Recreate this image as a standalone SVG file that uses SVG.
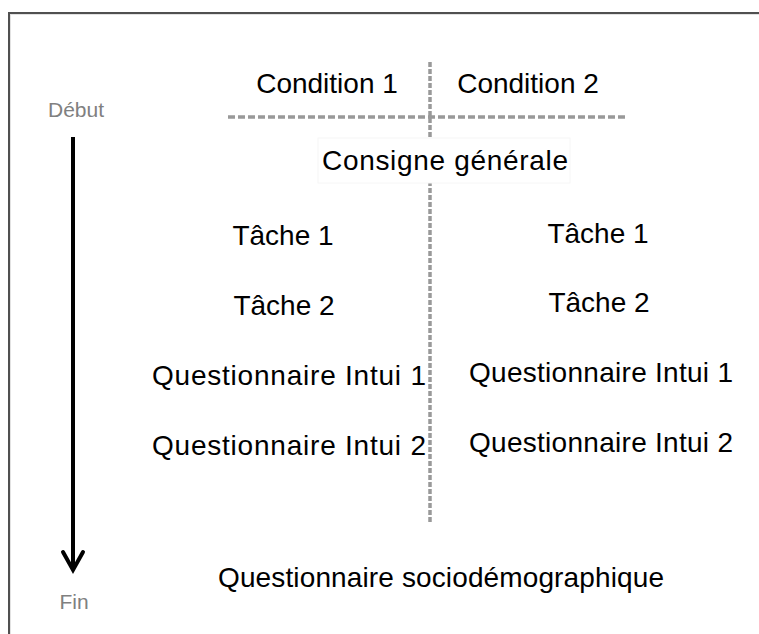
<svg xmlns="http://www.w3.org/2000/svg" width="759" height="634" viewBox="0 0 759 634">
  <style>
    .lbl { font-family: "Liberation Sans", Arial, sans-serif; font-size: 28px; fill: #000; text-anchor: middle; }
    .time { font-family: "Liberation Sans", Arial, sans-serif; font-size: 21px; fill: #808080; text-anchor: middle; }
    .box { fill: #fff; stroke: #f6f6f6; stroke-width: 1; }
    .dash-h { stroke: #999; stroke-width: 3.5; stroke-dasharray: 7 3; fill: none; }
    .dash-v { stroke: #999; stroke-width: 3.5; stroke-dasharray: 5 2; fill: none; }
  </style>

  <!-- page background and frame -->
  <rect x="0" y="0" width="759" height="634" fill="#fff"/>
  <path d="M10 634 V14 H759" fill="none" stroke="#e2e2e2" stroke-width="2"/>
  <path d="M9 634 V13 H759" fill="none" stroke="#505050" stroke-width="2"/>

  <!-- connectors: column separators and time arrow -->
  <g id="connectors">
    <line class="dash-v" x1="430" y1="62" x2="430" y2="522"/>
    <line class="dash-h" x1="228" y1="117" x2="627" y2="117"/>
    <line x1="73" y1="137" x2="73" y2="568" stroke="#000" stroke-width="4"/>
    <polyline points="63,552 73,570 83,552" fill="none" stroke="#000" stroke-width="4" stroke-linejoin="miter" stroke-linecap="round"/>
  </g>

  <g id="debut"><text class="time" x="76" y="117">Début</text></g>
  <g id="fin"><text class="time" x="74" y="609">Fin</text></g>

  <g id="condition1"><text class="lbl" x="327" y="93">Condition 1</text></g>
  <g id="condition2"><text class="lbl" x="528" y="93">Condition 2</text></g>

  <g id="consigne">
    <rect class="box" x="318" y="138" width="252" height="45"/>
    <text class="lbl" x="445" y="170" textLength="246">Consigne générale</text>
  </g>

  <!-- condition 1 column -->
  <g id="c1-tache1"><text class="lbl" x="283" y="245">Tâche 1</text></g>
  <g id="c1-tache2"><text class="lbl" x="284" y="315">Tâche 2</text></g>
  <g id="c1-intui1"><text class="lbl" x="289" y="385" textLength="274">Questionnaire Intui 1</text></g>
  <g id="c1-intui2"><text class="lbl" x="289" y="455" textLength="274">Questionnaire Intui 2</text></g>

  <!-- condition 2 column -->
  <g id="c2-tache1"><text class="lbl" x="598" y="243">Tâche 1</text></g>
  <g id="c2-tache2"><text class="lbl" x="599" y="312">Tâche 2</text></g>
  <g id="c2-intui1"><text class="lbl" x="601" y="382" textLength="264">Questionnaire Intui 1</text></g>
  <g id="c2-intui2"><text class="lbl" x="601" y="452" textLength="264">Questionnaire Intui 2</text></g>

  <g id="socio"><text class="lbl" x="441" y="587" textLength="446">Questionnaire sociodémographique</text></g>
</svg>
